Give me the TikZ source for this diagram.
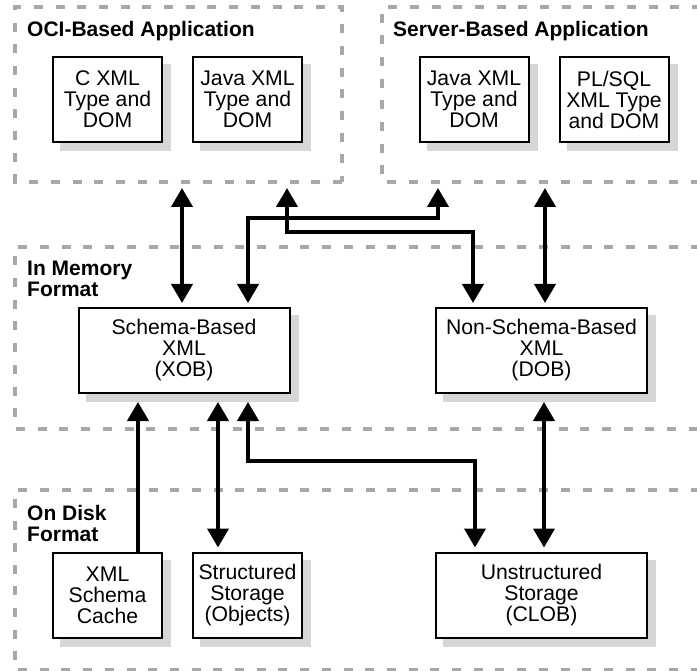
\documentclass[tikz,border=0pt]{standalone}
\usepackage{fontspec}
\setmainfont{Liberation Sans}
\usetikzlibrary{arrows.meta}
\definecolor{dashgray}{HTML}{A8A8A8}
\definecolor{shadowgray}{HTML}{D6D6D6}
\begin{document}
\begin{tikzpicture}[x=1pt,y=-1pt,
  region/.style={draw=dashgray, line width=4.5pt, dash pattern=on 9pt off 12.7pt},
  box/.style={draw=black, line width=2pt, fill=white, align=center, inner sep=0pt,
    font=\fontsize{21.2}{21}\selectfont},
  small/.style={box, minimum width=109pt, minimum height=85pt},
  wide/.style={box, minimum width=211pt, minimum height=85pt},
  boxshadow/.style={fill=shadowgray, draw=none},
  label/.style={font=\fontsize{21}{21}\selectfont\bfseries, inner sep=0pt, align=left},
  tip/.tip={Triangle[length=19pt,width=21pt]},
  link/.style={line width=4pt, line join=miter, tip-tip},
  uplink/.style={line width=4pt, line join=miter, -tip}
]
\useasboundingbox (0,0) rectangle (697,671);

% dashed region frames
\draw[region] (342,182) -- (15,182) -- (15,7) -- (342,7) -- cycle;
\draw[region] (700,182) -- (382,182) -- (382,7) -- (700,7);
\draw[region] (700,247) -- (15,247) -- (15,429) -- (700,429);
\draw[region] (700,490) -- (15,490) -- (15,670) -- (700,670);

% region titles
\node[label, anchor=base west] (ociT) at (27,37) {OCI-Based Application};
\node[label, anchor=base west] (srvT) at (393,37) {Server-Based Application};
\node[label, anchor=north west] (memT) at (27,261) {In Memory\\Format};
\node[label, anchor=north west] (diskT) at (27,505) {On Disk\\Format};

% drop shadows, drawn first so the components cover them
\foreach \cx/\cy/\w in {107.5/99.5/111, 247.5/99.5/111, 474/99.5/111, 614/99.5/111, 184/350.5/213, 541.5/350.5/213, 107.5/595/111, 247.5/595/111, 541.5/595/213}
  \fill[boxshadow] (\cx-\w/2+8,\cy-43.5+8) rectangle (\cx+\w/2+8,\cy+43.5+8);

% components
\node[small] (cxml)  at (107.5,99.5) {C XML\\Type and\\DOM};
\node[small] (jxoci) at (247.5,99.5) {Java XML\\Type and\\DOM};
\node[small] (jxsrv) at (474,99.5)   {Java XML\\Type and\\DOM};
\node[small] (plsql) at (614,99.5)   {PL/SQL\\XML Type\\and DOM};
\node[wide]  (xob)   at (184,350.5)  {Schema-Based\\XML\\(XOB)};
\node[wide]  (dob)   at (541.5,350.5){Non-Schema-Based\\XML\\(DOB)};
\node[small] (cache) at (107.5,595)  {XML\\Schema\\Cache};
\node[small] (stor)  at (247.5,595)  {Structured\\Storage\\(Objects)};
\node[wide]  (unst)  at (541.5,595)  {Unstructured\\Storage\\(CLOB)};

% connector ends on the application frames
\coordinate (ociA) at (182,188);
\coordinate (ociB) at (287,188);
\coordinate (srvA) at (438,188);
\coordinate (srvB) at (545,188);

% application <-> in-memory format
\draw[link] (ociA) -- ([yshift=4pt]ociA |- xob.north);
\draw[link] (ociB) -- ++(0,44) -| ([xshift=-68.5pt,yshift=4pt]dob.north);
\draw[link] (srvA) -- ++(0,30) -| ([xshift=64pt,yshift=4pt]xob.north);
\draw[link] (srvB) -- ([yshift=4pt]srvB |- dob.north);

% in-memory format <-> on-disk format
\draw[uplink] ([xshift=30.5pt]cache.north) -- ([xshift=-46pt,yshift=-8pt]xob.south);
\draw[link] ([xshift=34pt,yshift=-8pt]xob.south) -- ([xshift=-29.5pt,yshift=4pt]stor.north);
\draw[link] ([xshift=64pt,yshift=-8pt]xob.south) -- ++(0,59) -| ([xshift=-66.5pt,yshift=4pt]unst.north);
\draw[link] ([xshift=2.5pt,yshift=-8pt]dob.south) -- ([xshift=2.5pt,yshift=4pt]unst.north);
\end{tikzpicture}
\end{document}
